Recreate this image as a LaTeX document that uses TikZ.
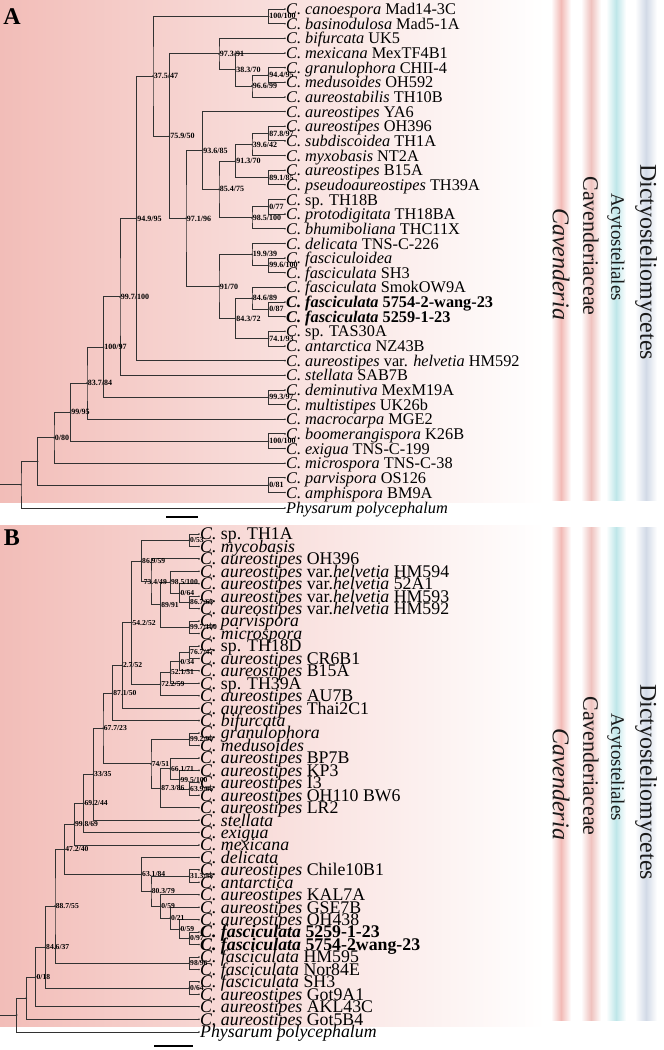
\documentclass[tikz,border=0pt]{standalone}
\usepackage{fontspec}
\setmainfont{Liberation Serif}
\usetikzlibrary{calc}
\definecolor{linec}{RGB}{50,50,50}
\definecolor{bgpink}{RGB}{242,189,184}
\definecolor{barcav}{RGB}{242,186,182}
\definecolor{barcavc}{RGB}{239,194,190}
\definecolor{baracy}{RGB}{190,230,233}
\definecolor{bardic}{RGB}{210,218,231}
\definecolor{txt}{RGB}{25,25,25}
\newcommand\Cv[1]{\textit{C. #1}}
\newcommand\mk[6]{%
  \path let \p1=($(#3)!0.5!(#4)$) in (#2pt,\y1) coordinate (#1);
  \draw[branch] (#3) -| (#1) |- (#4);
  \fill[dotc] (#1) circle (1pt);
  \node[#5] (#1l) at (#1) {#6};}
\newcommand\mkn[4]{%
  \path let \p1=($(#3)!0.5!(#4)$) in (#2pt,\y1) coordinate (#1);
  \draw[branch] (#3) -| (#1) |- (#4);
  \fill[dotc] (#1) circle (1pt);}
\newcommand\lfA[3]{\coordinate (#1) at (285,{9+(#2-1)*14.65});
  \fill[dotc] (#1) circle (0.9pt);
  \node[leafA] (#1t) at (#1) {#3};}
\newcommand\lfB[3]{\coordinate (#1) at (199,{534+(#2-1)*12.44});
  \fill[dotc] (#1) circle (0.9pt);
  \node[leafB] (#1t) at (#1) {#3};}
\tikzset{
  branch/.style={draw=linec, line width=0.8pt},
  dotc/.style={fill=linec},
  leafA/.style={anchor=base west, inner sep=0pt, xshift=1pt, yshift=-5.6pt, text=black, font=\fontsize{16.3}{16.3}\selectfont},
  leafB/.style={anchor=base west, inner sep=0pt, xshift=1pt, yshift=-5.9pt, text=black, font=\fontsize{17.8}{17.8}\selectfont},
  blA/.style={anchor=west, inner sep=0.6pt, text=black, font=\fontsize{8}{8}\selectfont\bfseries},
  blB/.style={anchor=west, inner sep=0.6pt, text=black, font=\fontsize{7.6}{7.6}\selectfont\bfseries},
  vlab/.style={rotate=-90, inner sep=0pt, text=txt},
  panel/.style={inner sep=0pt, font=\fontsize{24}{24}\selectfont\bfseries},
  sbar/.style={draw=black, line width=2pt},
}
\begin{document}
\begin{tikzpicture}[x=1pt,y=-1pt]
\useasboundingbox (0,0) rectangle (664,1050);
\fill[white] (0,0) rectangle (664,1050);
% backgrounds
\shade[left color=bgpink, right color=white] (0,0) rectangle (545,502);
\shade[left color=bgpink, right color=white] (0,525) rectangle (545,1026);
% bars
\foreach \yo/\ye in {0/500, 527/1020}{
  \shade[left color=white, right color=white, middle color=barcav] (551,\yo) rectangle (571,\ye);
  \shade[left color=white, right color=white, middle color=barcavc] (581,\yo) rectangle (601,\ye);
  \shade[left color=white, right color=white, middle color=baracy] (606,\yo) rectangle (626,\ye);
  \shade[left color=white, right color=white, middle color=bardic] (635,\yo) rectangle (657,\ye);
}
% vertical labels
\node[vlab, font=\fontsize{24}{24}\selectfont\itshape] (tA1) at (561,264) {Cavenderia};
\node[vlab, font=\fontsize{22}{22}\selectfont] (tA2) at (591,246) {Cavenderiaceae};
\node[vlab, font=\fontsize{19}{19}\selectfont] (tA3) at (616,247) {Acytosteliales};
\node[vlab, font=\fontsize{24}{24}\selectfont] (tA4) at (646,262) {Dictyosteliomycetes};
\node[vlab, font=\fontsize{24}{24}\selectfont\itshape] (tB1) at (561,784) {Cavenderia};
\node[vlab, font=\fontsize{22}{22}\selectfont] (tB2) at (591,766) {Cavenderiaceae};
\node[vlab, font=\fontsize{19}{19}\selectfont] (tB3) at (616,767) {Acytosteliales};
\node[vlab, font=\fontsize{24}{24}\selectfont] (tB4) at (646,782) {Dictyosteliomycetes};
% panel letters
\node[panel] (pA) at (12,17) {A};
\node[panel] (pB) at (12,538) {B};
% ===== Panel A leaves =====
\lfA{a1}{1}{\Cv{canoespora} Mad14-3C}
\lfA{a2}{2}{\Cv{basinodulosa} Mad5-1A}
\lfA{a3}{3}{\Cv{bifurcata} UK5}
\lfA{a4}{4}{\Cv{mexicana} MexTF4B1}
\lfA{a5}{5}{\Cv{granulophora} CHII-4}
\lfA{a6}{6}{\Cv{medusoides} OH592}
\lfA{a7}{7}{\Cv{aureostabilis} TH10B}
\lfA{a8}{8}{\Cv{aureostipes} YA6}
\lfA{a9}{9}{\Cv{aureostipes} OH396}
\lfA{a10}{10}{\Cv{subdiscoidea} TH1A}
\lfA{a11}{11}{\Cv{myxobasis} NT2A}
\lfA{a12}{12}{\Cv{aureostipes} B15A}
\lfA{a13}{13}{\Cv{pseudoaureostipes} TH39A}
\lfA{a14}{14}{\textit{C.} sp. TH18B}
\lfA{a15}{15}{\Cv{protodigitata} TH18BA}
\lfA{a16}{16}{\Cv{bhumiboliana} THC11X}
\lfA{a17}{17}{\Cv{delicata} TNS-C-226}
\lfA{a18}{18}{\Cv{fasciculoidea}}
\lfA{a19}{19}{\Cv{fasciculata} SH3}
\lfA{a20}{20}{\Cv{fasciculata} SmokOW9A}
\lfA{a21}{21}{\textbf{\Cv{fasciculata} 5754-2-wang-23}}
\lfA{a22}{22}{\textbf{\Cv{fasciculata} 5259-1-23}}
\lfA{a23}{23}{\textit{C.} sp. TAS30A}
\lfA{a24}{24}{\Cv{antarctica} NZ43B}
\lfA{a25}{25}{\Cv{aureostipes} var. \textit{helvetia} HM592}
\lfA{a26}{26}{\Cv{stellata} SAB7B}
\lfA{a27}{27}{\Cv{deminutiva} MexM19A}
\lfA{a28}{28}{\Cv{multistipes} UK26b}
\lfA{a29}{29}{\Cv{macrocarpa} MGE2}
\lfA{a30}{30}{\Cv{boomerangispora} K26B}
\lfA{a31}{31}{\Cv{exigua} TNS-C-199}
\lfA{a32}{32}{\Cv{microspora} TNS-C-38}
\lfA{a33}{33}{\Cv{parvispora} OS126}
\lfA{a34}{34}{\Cv{amphispora} BM9A}
\coordinate (aP) at (285,508);
\fill[dotc] (aP) circle (0.9pt);
\node[leafA] (aPt) at (aP) {\textit{Physarum polycephalum}};
% ===== Panel A internal nodes =====
\mk{nA1}{268.5}{a1}{a2}{blA}{100/100}
\mk{nA944}{268.5}{a5}{a6}{blA}{94.4/95}
\mk{nA966}{252}{nA944}{a7}{blA}{96.6/99}
\mk{nA383}{235.5}{a4}{nA966}{blA}{38.3/70}
\mk{nA973}{219}{a3}{nA383}{blA}{97.3/91}
\mk{nA878}{268.5}{a9}{a10}{blA}{87.8/97}
\mk{nA396}{252}{nA878}{a11}{blA}{39.6/42}
\mk{nA891}{268.5}{a12}{a13}{blA}{89.1/85}
\mk{nA913}{235.5}{nA396}{nA891}{blA}{91.3/70}
\mk{nA077}{268.5}{a14}{a15}{blA}{0/77}
\mk{nA985}{252}{nA077}{a16}{blA}{98.5/100}
\mk{nA854}{219}{nA913}{nA985}{blA}{85.4/75}
\mk{nA936}{202.5}{a8}{nA854}{blA}{93.6/85}
\mk{nA996}{268.5}{a18}{a19}{blA}{99.6/100}
\mk{nA199}{252}{a17}{nA996}{blA}{19.9/39}
\mk{nA087}{268.5}{a21}{a22}{blA}{0/87}
\mk{nA846}{252}{a20}{nA087}{blA}{84.6/89}
\mk{nA741}{268.5}{a23}{a24}{blA}{74.1/93}
\mk{nA843}{235.5}{nA846}{nA741}{blA}{84.3/72}
\mk{nA9170}{219}{nA199}{nA843}{blA}{91/70}
\mk{nA971}{186}{nA936}{nA9170}{blA}{97.1/96}
\mk{nA759}{169.5}{nA973}{nA971}{blA}{75.9/50}
\mk{nA375}{153}{nA1}{nA759}{blA}{37.5/47}
\mk{nA949}{136.5}{nA375}{a25}{blA}{94.9/95}
\mk{nA997}{120}{nA949}{a26}{blA}{99.7/100}
\mk{nA993}{268.5}{a27}{a28}{blA}{99.3/97}
\mk{nA10097}{103.5}{nA997}{nA993}{blA}{100/97}
\mk{nA837}{87}{nA10097}{a29}{blA}{83.7/84}
\mk{nA100b}{268.5}{a30}{a31}{blA}{100/100}
\mk{nA9995}{70.5}{nA837}{nA100b}{blA}{99/95}
\mk{nA080}{54}{nA9995}{a32}{blA}{0/80}
\mk{nA081}{268.5}{a33}{a34}{blA}{0/81}
\mkn{nAing}{37.5}{nA080}{nA081}
\mkn{nAroot}{21}{nAing}{aP}
\path let \p1=(nAroot) in (0pt,\y1) coordinate (stubA);
\draw[branch] (stubA) -- (nAroot);
% scale bar A
\coordinate (sbA1) at (166,517);
\coordinate (sbA2) at (198,517);
\draw[sbar] (sbA1) -- (sbA2);
% ===== Panel B leaves =====
\lfB{b1}{1}{\textit{C.} sp. TH1A}
\lfB{b2}{2}{\Cv{mycobasis}}
\lfB{b3}{3}{\Cv{aureostipes} OH396}
\lfB{b4}{4}{\Cv{aureostipes} var.\textit{helvetia} HM594}
\lfB{b5}{5}{\Cv{aureostipes} var.\textit{helvetia} 52A1}
\lfB{b6}{6}{\Cv{aureostipes} var.\textit{helvetia} HM593}
\lfB{b7}{7}{\Cv{aureostipes} var.\textit{helvetia} HM592}
\lfB{b8}{8}{\Cv{parvispora}}
\lfB{b9}{9}{\Cv{microspora}}
\lfB{b10}{10}{\textit{C.} sp. TH18D}
\lfB{b11}{11}{\Cv{aureostipes} CR6B1}
\lfB{b12}{12}{\Cv{aureostipes} B15A}
\lfB{b13}{13}{\textit{C.} sp. TH39A}
\lfB{b14}{14}{\Cv{aureostipes} AU7B}
\lfB{b15}{15}{\Cv{aureostipes} Thai2C1}
\lfB{b16}{16}{\Cv{bifurcata}}
\lfB{b17}{17}{\Cv{granulophora}}
\lfB{b18}{18}{\Cv{medusoides}}
\lfB{b19}{19}{\Cv{aureostipes} BP7B}
\lfB{b20}{20}{\Cv{aureostipes} KP3}
\lfB{b21}{21}{\Cv{aureostipes} I3}
\lfB{b22}{22}{\Cv{aureostipes} OH110 BW6}
\lfB{b23}{23}{\Cv{aureostipes} LR2}
\lfB{b24}{24}{\Cv{stellata}}
\lfB{b25}{25}{\Cv{exigua}}
\lfB{b26}{26}{\Cv{mexicana}}
\lfB{b27}{27}{\Cv{delicata}}
\lfB{b28}{28}{\Cv{aureostipes} Chile10B1}
\lfB{b29}{29}{\Cv{antarctica}}
\lfB{b30}{30}{\Cv{aureostipes} KAL7A}
\lfB{b31}{31}{\Cv{aureostipes} GSE7B}
\lfB{b32}{32}{\Cv{aureostipes} OH438}
\lfB{b33}{33}{\textbf{\Cv{fasciculata} 5259-1-23}}
\lfB{b34}{34}{\textbf{\Cv{fasciculata} 5754-2wang-23}}
\lfB{b35}{35}{\Cv{fasciculata} HM595}
\lfB{b36}{36}{\Cv{fasciculata} Nor84E}
\lfB{b37}{37}{\Cv{fasciculata} SH3}
\lfB{b38}{38}{\Cv{aureostipes} Got9A1}
\lfB{b39}{39}{\Cv{aureostipes} AKL43C}
\lfB{b40}{40}{\Cv{aureostipes} Got5B4}
\coordinate (bP) at (199,1032);
\fill[dotc] (bP) circle (0.9pt);
\node[leafB] (bPt) at (bP) {\textit{Physarum polycephalum}};
% ===== Panel B internal nodes =====
\mk{nB053}{189.4}{b1}{b2}{blB}{0/53}
\mk{nB867}{189.4}{b6}{b7}{blB}{86.7/63}
\mk{nB064}{179.8}{b5}{nB867}{blB}{0/64}
\mk{nB985}{170.2}{b4}{nB064}{blB}{98.5/100}
\mk{nB997}{189.4}{b8}{b9}{blB}{99.7/100}
\mk{nB8991}{160.6}{nB985}{nB997}{blB}{89/91}
\mk{nB734}{151}{b3}{nB8991}{blB,xshift=-8pt}{73.4/49}
\mk{nB869}{141.4}{nB053}{nB734}{blB}{86.9/59}
\mk{nB767}{189.4}{b10}{b11}{blB}{76.7/47}
\mk{nB034}{179.8}{nB767}{b12}{blB}{0/34}
\mk{nB521}{170.2}{nB034}{b13}{blB}{52.1/51}
\mk{nB722}{160.6}{nB521}{b14}{blB}{72.2/59}
\mk{nB542}{131.8}{nB869}{nB722}{blB}{54.2/52}
\mk{nB27}{122.2}{nB542}{b15}{blB}{2.7/52}
\mk{nB871}{112.6}{nB27}{b16}{blB}{87.1/50}
\mk{nB992}{189.4}{b17}{b18}{blB}{99.2/90}
\mk{nB639}{189.4}{b21}{b22}{blB}{63.9/66}
\mk{nB995}{179.8}{b20}{nB639}{blB}{99.5/100}
\mk{nB661}{170.2}{b19}{nB995}{blB}{66.1/71}
\mk{nB873}{160.6}{nB661}{b23}{blB}{87.3/86}
\mk{nB7451}{151}{nB992}{nB873}{blB}{74/51}
\mk{nB677}{103}{nB871}{nB7451}{blB}{67.7/23}
\mk{nB33}{93.4}{nB677}{b24}{blB}{33/35}
\mk{nB692}{83.8}{nB33}{b25}{blB}{69.2/44}
\mk{nB998}{74.2}{nB692}{b26}{blB}{99.8/69}
\mk{nB313}{189.4}{b28}{b29}{blB}{31.3/58}
\mk{nB097}{189.4}{b33}{b34}{blB}{0/97}
\mk{nB059b}{179.8}{b32}{nB097}{blB}{0/59}
\mk{nB021}{170.2}{b31}{nB059b}{blB}{0/21}
\mk{nB059a}{160.6}{b30}{nB021}{blB}{0/59}
\mk{nB803}{151}{nB313}{nB059a}{blB}{80.3/79}
\mk{nB631}{141.4}{b27}{nB803}{blB}{63.1/84}
\mk{nB472}{64.6}{nB998}{nB631}{blB}{47.2/40}
\mk{nB9896}{189.4}{b35}{b36}{blB}{98/96}
\mk{nB887}{55}{nB472}{nB9896}{blB}{88.7/55}
\mk{nB064b}{189.4}{b37}{b38}{blB}{0/64}
\mk{nB846}{45.4}{nB887}{nB064b}{blB}{84.6/37}
\mk{nB018}{35.8}{nB846}{b39}{blB}{0/18}
\mkn{nBing}{26.2}{nB018}{b40}
\mkn{nBroot}{16.6}{nBing}{bP}
\path let \p1=(nBroot) in (0pt,\y1) coordinate (stubB);
\draw[branch] (stubB) -- (nBroot);
% scale bar B
\coordinate (sbB1) at (154,1046);
\coordinate (sbB2) at (193,1046);
\draw[sbar] (sbB1) -- (sbB2);
\end{tikzpicture}
\end{document}
